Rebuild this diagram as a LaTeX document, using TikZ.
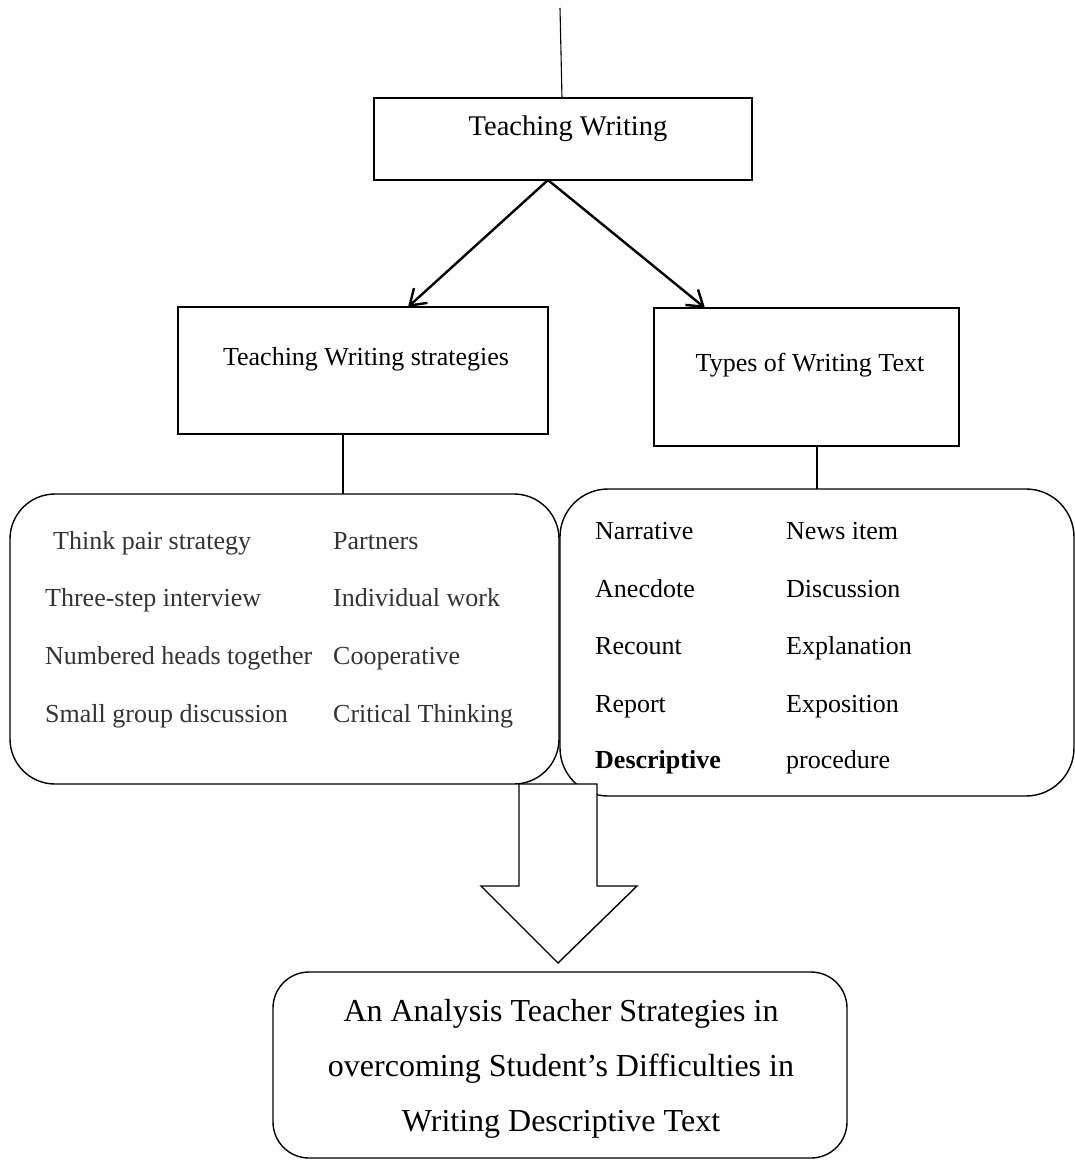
\documentclass[tikz,border=0pt]{standalone}
\usepackage{fontspec}
\setmainfont{Liberation Serif}
\usetikzlibrary{arrows.meta}
\definecolor{softblack}{gray}{0.2}
\begin{document}
\begin{tikzpicture}[x=1pt,y=-1pt,
  boxshape/.style={draw, line width=1.4pt, rectangle, inner sep=0pt, outer sep=0pt, anchor=north west},
  rbox/.style={boxshape, rounded corners=#1},
  bodytxt/.style={inner sep=0pt, anchor=base west, font=\fontsize{26}{31}\selectfont},
  graytxt/.style={bodytxt, text=softblack},
  titletxt/.style={inner sep=0pt, anchor=base, font=\fontsize{26}{31}\selectfont},
  bigtxt/.style={inner sep=0pt, anchor=base, font=\fontsize{32}{38}\selectfont},
  conn/.style={line width=1.4pt},
  arr/.style={line width=2.4pt, -{Straight Barb[length=15pt,width=20pt,line width=2.4pt]}}
]
\useasboundingbox (0,0) rectangle (1075,1160);

% boxes
\node[boxshape, minimum width=378pt, minimum height=82pt] (tw) at (374,98) {};
\node[boxshape, minimum width=370pt, minimum height=127pt] (tws) at (178,307) {};
\node[boxshape, minimum width=305pt, minimum height=138pt] (typ) at (654,308) {};
\node[rbox=45pt, minimum width=549pt, minimum height=290pt] (lst) at (10,494) {};
\node[rbox=48pt, minimum width=514pt, minimum height=307pt] (rst) at (560,489) {};
\node[rbox=36pt, minimum width=574pt, minimum height=186pt] (res) at (273,972) {};

% titles
\node[titletxt, font=\fontsize{28.5}{34}\selectfont] (twt) at (568,135) {Teaching Writing};
\node[titletxt] (twst) at (366,365) {Teaching Writing strategies};
\node[titletxt] (typt) at (810,371) {Types of Writing Text};

% top free line
\coordinate (topend) at (560,8);
\draw[line width=1.1pt] (topend) -- (tw.north -| 562,0);

% arrows from Teaching Writing
\coordinate (twout) at ([xshift=174pt]tw.south west);
\coordinate (twsin) at ([xshift=230pt]tws.north west);
\coordinate (typin) at ([xshift=51pt]typ.north west);
\draw[arr] (twout) -- (twsin);
\draw[arr] (twout) -- (typin);

% connectors down to lists
\coordinate (c1) at ([xshift=165pt]tws.south west);
\draw[conn] (c1) -- (c1 |- lst.north);
\coordinate (c2) at ([xshift=163pt]typ.south west);
\draw[conn] (c2) -- (c2 |- rst.north);

% left list
\node[graytxt] (l11) at (53,549) {Think pair strategy};
\node[graytxt] (l21) at (45,606) {Three-step interview};
\node[graytxt] (l31) at (45,664) {Numbered heads together};
\node[graytxt] (l41) at (45,722) {Small group discussion};
\node[graytxt] (l12) at (333,549) {Partners};
\node[graytxt] (l22) at (333,606) {Individual work};
\node[graytxt] (l32) at (333,664) {Cooperative};
\node[graytxt] (l42) at (333,722) {Critical Thinking};

% right list
\node[bodytxt] (r11) at (595,539) {Narrative};
\node[bodytxt] (r21) at (595,597) {Anecdote};
\node[bodytxt] (r31) at (595,654) {Recount};
\node[bodytxt] (r41) at (595,712) {Report};
\node[bodytxt] (r51) at (595,768) {\bfseries Descriptive};
\node[bodytxt] (r12) at (786,539) {News item};
\node[bodytxt] (r22) at (786,597) {Discussion};
\node[bodytxt] (r32) at (786,654) {Explanation};
\node[bodytxt] (r42) at (786,712) {Exposition};
\node[bodytxt] (r52) at (786,768) {procedure};

% block arrow
\coordinate (ba1) at (519,784);
\coordinate (ba2) at (597,784);
\coordinate (batip) at (558,963);
\draw[line width=1.4pt, fill=white, line join=miter]
  (ba1) -- (519,886) -- (481,886) -- (batip) -- (637,886) -- (597,886) -- (ba2) -- cycle;

% result text
\node[bigtxt] (res1) at (561,1021) {An Analysis Teacher Strategies in};
\node[bigtxt] (res2) at (561,1076) {overcoming Student’s Difficulties in};
\node[bigtxt] (res3) at (561,1131) {Writing Descriptive Text};
\end{tikzpicture}
\end{document}
